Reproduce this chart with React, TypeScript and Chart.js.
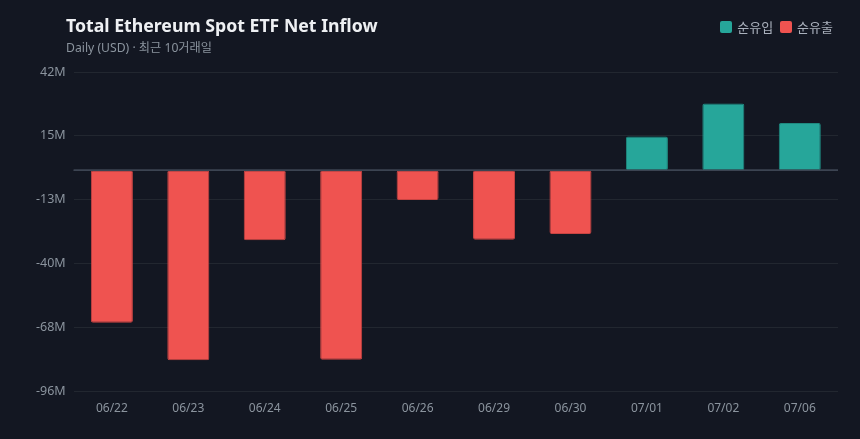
import React, { useEffect, useRef } from "react";
import { Chart, registerables } from "chart.js";

Chart.register(...registerables);

const categories = ["06/22", "06/23", "06/24", "06/25", "06/26", "06/29", "06/30", "07/01", "07/02", "07/06"];
const netFlowM = [-65.9, -82.1, -30.3, -81.8, -12.9, -30.0, -27.5, 14.6, 28.8, 20.4];
const legendLabels = ["순유입", "순유출"];
const titleText = "Total Ethereum Spot ETF Net Inflow";
const subtitleText = "Daily (USD) · 최근 10거래일";
const yMin = -95.6;
const yMax = 42.4;

const INFLOW = "#26a69a";
const OUTFLOW = "#ef5350";
const BG = "#131722";
const FONT = "'Noto Sans', 'Noto Sans CJK KR', sans-serif";

export default function App() {
  const ref = useRef<HTMLCanvasElement>(null);

  useEffect(() => {
    if (!ref.current) return;
    const drawZero = (c: any) => {
      const y = c.scales.y.getPixelForValue(0);
      const ctx = c.ctx;
      ctx.save();
      ctx.strokeStyle = "#3c4452";
      ctx.lineWidth = 1.5;
      ctx.beginPath();
      ctx.moveTo(c.chartArea.left, y);
      ctx.lineTo(c.chartArea.right, y);
      ctx.stroke();
      ctx.restore();
    };
    const chart = new Chart(ref.current, {
      type: "bar",
      data: {
        labels: categories,
        datasets: [
          {
            data: netFlowM,
            backgroundColor: netFlowM.map((v) => (v >= 0 ? INFLOW : OUTFLOW)),
            borderColor: netFlowM.map((v) => (v >= 0 ? "#1f8a80" : "#c94442")),
            borderWidth: 1,
            borderRadius: 2,
            borderSkipped: false,
            categoryPercentage: 1,
            barPercentage: 0.55,
          },
        ],
      },
      options: {
        animation: false,
        responsive: false,
        maintainAspectRatio: false,
        layout: { padding: { left: 28, right: 22, top: 72, bottom: 13 } },
        plugins: {
          legend: { display: false },
          title: { display: false },
          tooltip: { enabled: false },
        },
        scales: {
          x: {
            grid: { display: false, drawTicks: false },
            border: { display: false },
            ticks: { color: "#8b949e", font: { family: FONT, size: 12 }, padding: 10 },
          },
          y: {
            min: yMin,
            max: yMax,
            ticks: {
              count: 6,
              color: "#8b949e",
              font: { family: FONT, size: 12.5 },
              padding: 8,
              callback: (v: any) => Math.round(Number(v)) + "M",
            },
            grid: {
              drawTicks: false,
              color: "#222730",
              lineWidth: 1,
            },
            border: { display: false },
          },
        },
      },
      plugins: [
        {
          id: "zeroLine",
          beforeDatasetsDraw: drawZero,
          afterDatasetsDraw: drawZero,
        },
      ],
    });
    return () => chart.destroy();
  }, []);

  return (
    <div style={{ position: "fixed", left: 0, top: 0, width: 860, height: 439, background: BG, fontFamily: FONT }}>
      <canvas ref={ref} width={860} height={439} style={{ position: "absolute", left: 0, top: 0 }} />
      <div style={{ position: "absolute", left: 66, top: 13, color: "#eef0f3", fontSize: 17.7, fontWeight: 700, lineHeight: "24px", whiteSpace: "nowrap" }}>
        {titleText}
      </div>
      <div style={{ position: "absolute", left: 66, top: 40, color: "#8b949e", fontSize: 12.2, lineHeight: "16px", whiteSpace: "nowrap" }}>
        {subtitleText}
      </div>
      <div style={{ position: "absolute", right: 27, top: 18, display: "flex", alignItems: "center", color: "#aab1bd", fontSize: 13, lineHeight: "18px", whiteSpace: "nowrap" }}>
        {legendLabels.map((l, i) => (
          <div key={l} style={{ display: "flex", alignItems: "center", marginLeft: i === 0 ? 0 : 7 }}>
            <span style={{ display: "inline-block", width: 12, height: 12, borderRadius: 2, background: i === 0 ? INFLOW : OUTFLOW, marginRight: 5 }} />
            <span>{l}</span>
          </div>
        ))}
      </div>
    </div>
  );
}
